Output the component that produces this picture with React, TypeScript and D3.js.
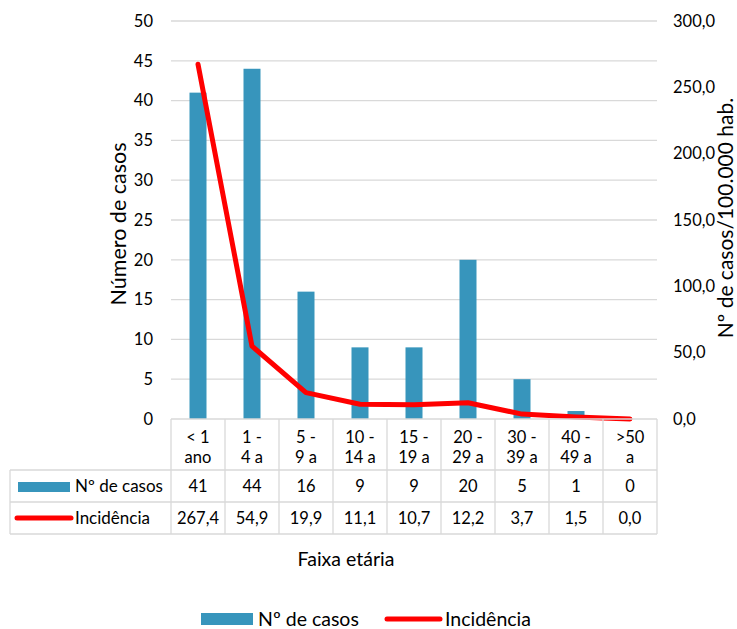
import React from "react";
import * as d3 from "d3";

const categories = ["< 1 ano", "1 - 4 a", "5 - 9 a", "10 - 14 a", "15 - 19 a", "20 - 29 a", "30 - 39 a", "40 - 49 a", ">50 a"];
const catLine1 = ["< 1", "1 -", "5 -", "10 -", "15 -", "20 -", "30 -", "40 -", ">50"];
const catLine2 = ["ano", "4 a", "9 a", "14 a", "19 a", "29 a", "39 a", "49 a", "a"];
const casos = [41, 44, 16, 9, 9, 20, 5, 1, 0];
const incidencia = [267.4, 54.9, 19.9, 11.1, 10.7, 12.2, 3.7, 1.5, 0.0];
const leftTicks = [0, 5, 10, 15, 20, 25, 30, 35, 40, 45, 50];
const rightTicks = [0, 50, 100, 150, 200, 250, 300];

const W = 737, H = 629;
const left = 171, right = 657, top = 21, bottom = 419;
const tableLeft = 10;
const rowH = [470, 502, 534];
const BAR = "#3795bc";
const RED = "#ff0000";
const GRID = "#d9d9d9";
const FONT = "Lato, 'Open Sans', sans-serif";

export default function App() {
  const x = d3.scaleBand<string>().domain(categories).range([left, right]).padding(0);
  const yL = d3.scaleLinear().domain([0, 50]).range([bottom, top]);
  const yR = d3.scaleLinear().domain([0, 300]).range([bottom, top]);
  const bw = 17;
  const line = d3.line<number>()
    .x((_, i) => (x(categories[i]) as number) + x.bandwidth() / 2)
    .y((d) => yR(d));
  const fmt = (v: number) => v.toFixed(1).replace(".", ",");
  const bwid = x.bandwidth();
  return (
    <svg width={W} height={H} style={{ position: "absolute", left: 0, top: 0, background: "#fff" }} fontFamily={FONT}>
      {leftTicks.slice(1).map((t) => (
        <line key={t} x1={left} x2={right} y1={yL(t)} y2={yL(t)} stroke={GRID} strokeWidth={1.3} />
      ))}
      {categories.map((c, i) => (
        <rect key={c} x={(x(c) as number) + bwid / 2 - bw / 2} y={yL(casos[i])} width={bw} height={bottom - yL(casos[i])} fill={BAR} />
      ))}
      <path d={line(incidencia) || ""} fill="none" stroke={RED} strokeWidth={5} strokeLinejoin="round" strokeLinecap="round" />
      {leftTicks.map((t) => (
        <text key={t} x={153} y={yL(t)} dy="0.35em" textAnchor="end" fontSize={16.5} fill="#000">{t}</text>
      ))}
      {rightTicks.map((t) => (
        <text key={t} x={673} y={yR(t)} dy="0.35em" textAnchor="start" fontSize={16.5} fill="#000">{fmt(t)}</text>
      ))}
      <text transform={`translate(126,224) rotate(-90)`} textAnchor="middle" fontSize={21.5} fill="#000">Número de casos</text>
      <text transform={`translate(733,218) rotate(-90)`} textAnchor="middle" fontSize={21} fill="#000">Nº de casos/100.000 hab.</text>
      {/* table */}
      <line x1={left} x2={right} y1={bottom} y2={bottom} stroke={GRID} strokeWidth={1.3} />
      {rowH.map((yy) => (
        <line key={yy} x1={tableLeft} x2={right} y1={yy} y2={yy} stroke={GRID} strokeWidth={1.3} />
      ))}
      <line x1={tableLeft} x2={tableLeft} y1={rowH[0]} y2={rowH[2]} stroke={GRID} strokeWidth={1.3} />
      {categories.map((c, i) => (
        <line key={"v" + i} x1={x(c) as number} x2={x(c) as number} y1={bottom} y2={rowH[2]} stroke={GRID} strokeWidth={1.3} />
      ))}
      <line x1={right} x2={right} y1={bottom} y2={rowH[2]} stroke={GRID} strokeWidth={1.3} />
      {categories.map((c, i) => {
        const cx = (x(c) as number) + bwid / 2;
        return (
          <g key={"t" + i} fontSize={16.5} fill="#000" textAnchor="middle">
            <text x={cx} y={437} dy="0.35em">{catLine1[i]}</text>
            <text x={cx} y={457} dy="0.35em">{catLine2[i]}</text>
            <text x={cx} y={486} dy="0.35em">{casos[i]}</text>
            <text x={cx} y={518} dy="0.35em">{fmt(incidencia[i])}</text>
          </g>
        );
      })}
      <rect x={18} y={482} width={52} height={10} fill={BAR} />
      <text x={75} y={486} dy="0.35em" fontSize={17} fill="#000">Nº de casos</text>
      <line x1={17} x2={71} y1={518} y2={518} stroke={RED} strokeWidth={5} strokeLinecap="round" />
      <text x={75} y={518} dy="0.35em" fontSize={17} fill="#000">Incidência</text>
      <text x={346} y={566} textAnchor="middle" fontSize={19.5} fill="#000">Faixa etária</text>
      {/* legend */}
      <rect x={201} y={613} width={52} height={12} fill={BAR} />
      <text x={258} y={626} fontSize={19.5} fill="#000">Nº de casos</text>
      <line x1={387} x2={440} y1={619} y2={619} stroke={RED} strokeWidth={5} strokeLinecap="round" />
      <text x={445} y={626} fontSize={19.5} fill="#000">Incidência</text>
    </svg>
  );
}
